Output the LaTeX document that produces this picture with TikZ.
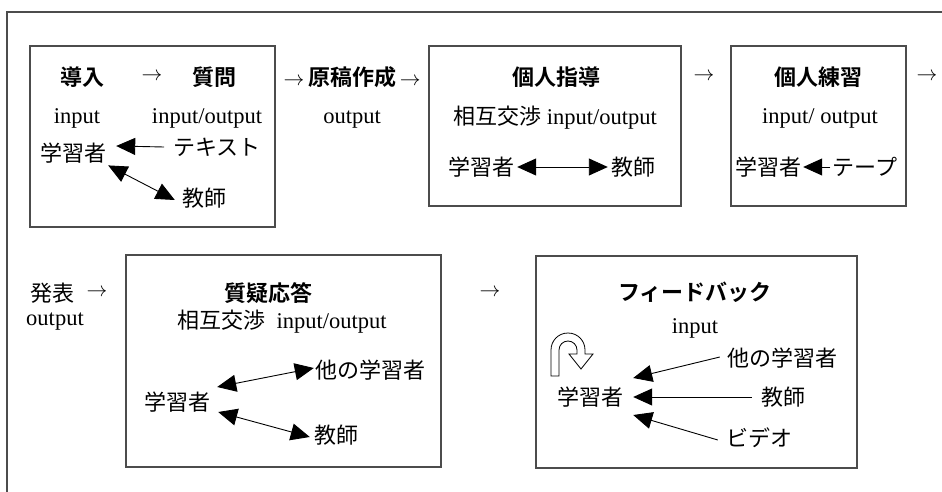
\documentclass[tikz,border=0pt]{standalone}
\usepackage{fontspec}
\setmainfont{Liberation Serif}
\newfontfamily\jp{Noto Sans CJK JP}
\newfontfamily\jpb{Noto Sans CJK JP Bold}
\usetikzlibrary{arrows.meta}
\newcommand{\ra}{$\rightarrow$}
\tikzset{
  txt/.style={inner sep=0pt, font=\fontsize{22.5}{26}\selectfont},
  jt/.style={txt, font=\fontsize{22}{26}\selectfont\jp},
  jb/.style={txt, font=\fontsize{22}{26}\selectfont\jpb},
  frame/.style={draw=black!70, line width=1.2pt},
  boxln/.style={draw=black!70, line width=1.2pt},
  arr/.style={-{Triangle[length=19pt,width=17pt]}, line width=0.9pt},
  darr/.style={{Triangle[length=19pt,width=17pt]}-{Triangle[length=19pt,width=17pt]}, line width=0.9pt},
  hollow/.style={draw=black, line width=0.8pt, fill=white}
}
\begin{document}
\begin{tikzpicture}[x=1pt,y=-1pt]
\useasboundingbox (0,0) rectangle (942,492);
% outer frame (top and left)
\draw[frame] (942,12) -- (7,12) -- (7,492);

% ---- Box 1
\draw[boxln] (30,46) rectangle (275,227);
\node[jb] (b1a) at (82,77) {導入};
\node[txt] (b1arr) at (152,77) {\ra};
\node[jb] (b1b) at (214,77) {質問};
\node[txt] (b1in) at (77,118) {input};
\node[txt] (b1io) at (207,118) {input/output};
\node[jt] (L1) at (73,153) {学習者};
\node[jt] (T1) at (217,147) {テキスト};
\node[jt] (K1) at (204,198) {教師};
\draw[arr] ([xshift=-9pt]T1.west) -- ([xshift=10pt,yshift=7pt]L1.east);
\draw[darr] ([xshift=2pt,yshift=-2pt]L1.south east) -- ([xshift=-7pt,yshift=-2pt]K1.west);

% ---- 原稿作成
\node[txt] (gen) at (352,77) {\ra\,{\jpb\fontsize{22}{26}\selectfont 原稿作成}\,\ra};
\node[txt] (genout) at (352,120) {output};

% ---- Box 2
\draw[boxln] (429,46) rectangle (681,206);
\node[jb] (b2t) at (556,77) {個人指導};
\node[txt] (b2io) at (555,118) {{\jp\fontsize{22}{26}\selectfont 相互交渉} input/output};
\node[jt] (L2) at (481,167) {学習者};
\node[jt] (K2) at (633,167) {教師};
\draw[darr] ([xshift=3pt]L2.east) -- ([xshift=-3pt]K2.west);

\node[txt] (a23) at (704,77) {\ra};

% ---- Box 3
\draw[boxln] (731,46) rectangle (906,206);
\node[jb] (b3t) at (818,77) {個人練習};
\node[txt] (b3io) at (820,118) {input/ output};
\node[jt] (L3) at (768,167) {学習者};
\node[jt] (TP) at (865,167) {テープ};
\draw[arr] ([xshift=-2pt]TP.west) -- ([xshift=2pt]L3.east);

\node[txt] (a3e) at (927,77) {\ra};

% ---- 発表
\node[jt] (hap) at (52,293) {発表};
\node[txt] (harr) at (97,293) {\ra};
\node[txt] (hout) at (55,322) {output};

% ---- Box 4
\draw[boxln] (126,255) rectangle (441,467);
\node[jb] (b4t) at (268,293) {質疑応答};
\node[txt] (b4io) at (282,322) {{\jp\fontsize{22}{26}\selectfont 相互交渉}\ \ input/output};
\node[jt] (L4) at (177,402) {学習者};
\node[jt] (O4) at (370,370) {他の学習者};
\node[jt] (K4) at (336,435) {教師};
\draw[darr] ([xshift=7pt,yshift=15pt]L4.east) -- ([xshift=-1pt,yshift=2pt]O4.west);
\draw[darr] ([xshift=8pt,yshift=-10pt]L4.east) -- ([xshift=-4pt,yshift=-2pt]K4.west);

\node[txt] (a45) at (490,293) {\ra};

% ---- Box 5
\draw[boxln] (536,256) rectangle (857,468);
\node[jb] (b5t) at (695,292) {フィードバック};
\node[txt] (b5in) at (695,328) {input};
\node[jt] (L5) at (590,397) {学習者};
\node[jt] (O5) at (782,358) {他の学習者};
\node[jt] (K5) at (783,397) {教師};
\node[jt] (V5) at (759,438) {ビデオ};
\draw[arr] ([xshift=-7pt,yshift=1pt]O5.west) -- ([xshift=10pt,yshift=19pt]L5.east);
\draw[arr] ([xshift=-9pt]K5.west) -- ([xshift=10pt]L5.east);
\draw[arr] ([xshift=-8pt,yshift=-2pt]V5.west) -- ([xshift=10pt,yshift=-18pt]L5.east);
% hollow U-turn arrow
\draw[hollow] (551,376) -- (551,350)
  .. controls (551,341) and (558,333) .. (568,333)
  .. controls (578,333) and (585,341) .. (585,350)
  -- (585,354) -- (593,354) -- (581,369) -- (569,354) -- (577,354) -- (577,350)
  .. controls (577,345) and (573,341) .. (568,341)
  .. controls (563,341) and (559,345) .. (559,350)
  -- (559,376) -- cycle;
\end{tikzpicture}
\end{document}
